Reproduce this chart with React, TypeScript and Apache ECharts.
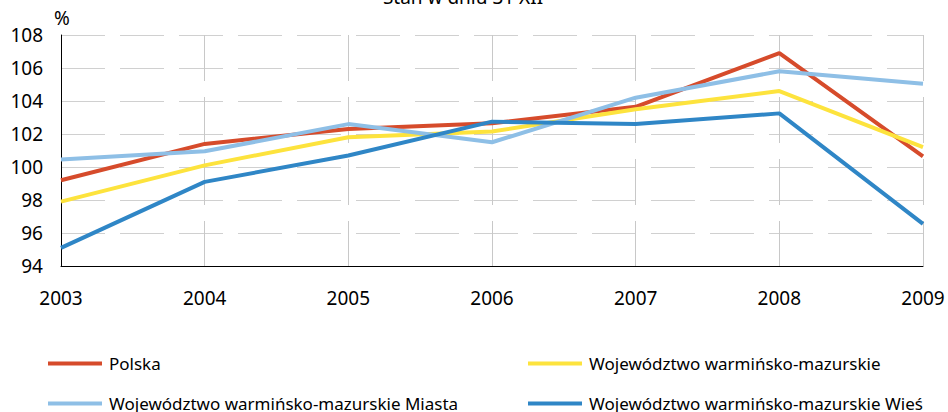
import React, { useEffect, useRef } from "react";
import * as echarts from "echarts";

const years = ["2003", "2004", "2005", "2006", "2007", "2008", "2009"];
const polska = [99.2, 101.4, 102.3, 102.65, 103.65, 106.9, 100.65];
const wojewodztwo = [97.9, 100.1, 101.8, 102.15, 103.5, 104.6, 101.2];
const miasta = [100.45, 100.95, 102.6, 101.5, 104.2, 105.8, 105.05];
const wies = [95.1, 99.1, 100.7, 102.75, 102.6, 103.25, 96.55];
const yTicks = { min: 94, max: 108, interval: 2 };

const names = [
  "Polska",
  "Województwo warmińsko-mazurskie",
  "Województwo warmińsko-mazurskie Miasta",
  "Województwo warmińsko-mazurskie Wieś",
];
const colors = ["#D64B2B", "#FDE33D", "#8EBFE6", "#2F86C6"];
const values = [polska, wojewodztwo, miasta, wies];

const FONT = "Noto Sans";

export default function App() {
  const ref = useRef<HTMLDivElement>(null);
  useEffect(() => {
    document.body.style.margin = "0";
    const chart = echarts.init(ref.current!, null, { renderer: "svg" });
    const legendPos = [
      { left: 48, top: 355 },
      { left: 528, top: 355 },
      { left: 48, top: 395 },
      { left: 528, top: 395 },
    ];
    chart.setOption({
      animation: false,
      backgroundColor: "#ffffff",
      grid: { left: 61, right: 25, top: 35, bottom: 146 },
      graphic: [
        {
          type: "text",
          x: 463,
          y: -3,
          style: {
            text: "Stan w dniu 31 XII",
            font: `19px "${FONT}"`,
            fill: "#000",
            textAlign: "center",
            textVerticalAlign: "middle",
          },
        },
        {
          type: "text",
          x: 54,
          y: 18,
          style: {
            text: "%",
            font: `19px "${FONT}"`,
            fill: "#000",
            textAlign: "left",
            textVerticalAlign: "middle",
          },
        },
      ],
      legend: names.map((n, i) => ({
        data: [n],
        left: legendPos[i].left,
        top: legendPos[i].top,
        icon: "rect",
        itemWidth: 54,
        itemHeight: 4,
        padding: 0,
        textStyle: { fontFamily: FONT, fontSize: 17, color: "#000", padding: [0, 0, 0, 2] },
        selectedMode: false,
      })),
      xAxis: {
        type: "category",
        data: years,
        boundaryGap: false,
        axisLine: { lineStyle: { color: "#000", width: 1 } },
        axisTick: { show: false },
        axisLabel: { fontFamily: FONT, fontSize: 19, color: "#000", margin: 22 },
        splitLine: {
          show: true,
          lineStyle: { color: "#c8c8c8", width: 1, type: [46, 16] },
        },
      },
      yAxis: {
        type: "value",
        min: yTicks.min,
        max: yTicks.max,
        interval: yTicks.interval,
        axisLine: { show: true, lineStyle: { color: "#000", width: 1 } },
        axisTick: { show: false },
        axisLabel: { fontFamily: FONT, fontSize: 19, color: "#000", margin: 18 },
        splitLine: {
          show: true,
          lineStyle: { color: "#d0d0d0", width: 1, type: [44, 15] },
        },
      },
      series: names.map((n, i) => ({
        name: n,
        type: "line",
        data: values[i],
        symbol: "none",
        color: colors[i],
        lineStyle: { color: colors[i], width: 4 },
      })),
    });
    return () => chart.dispose();
  }, []);
  return <div ref={ref} style={{ width: 948, height: 412 }} />;
}
